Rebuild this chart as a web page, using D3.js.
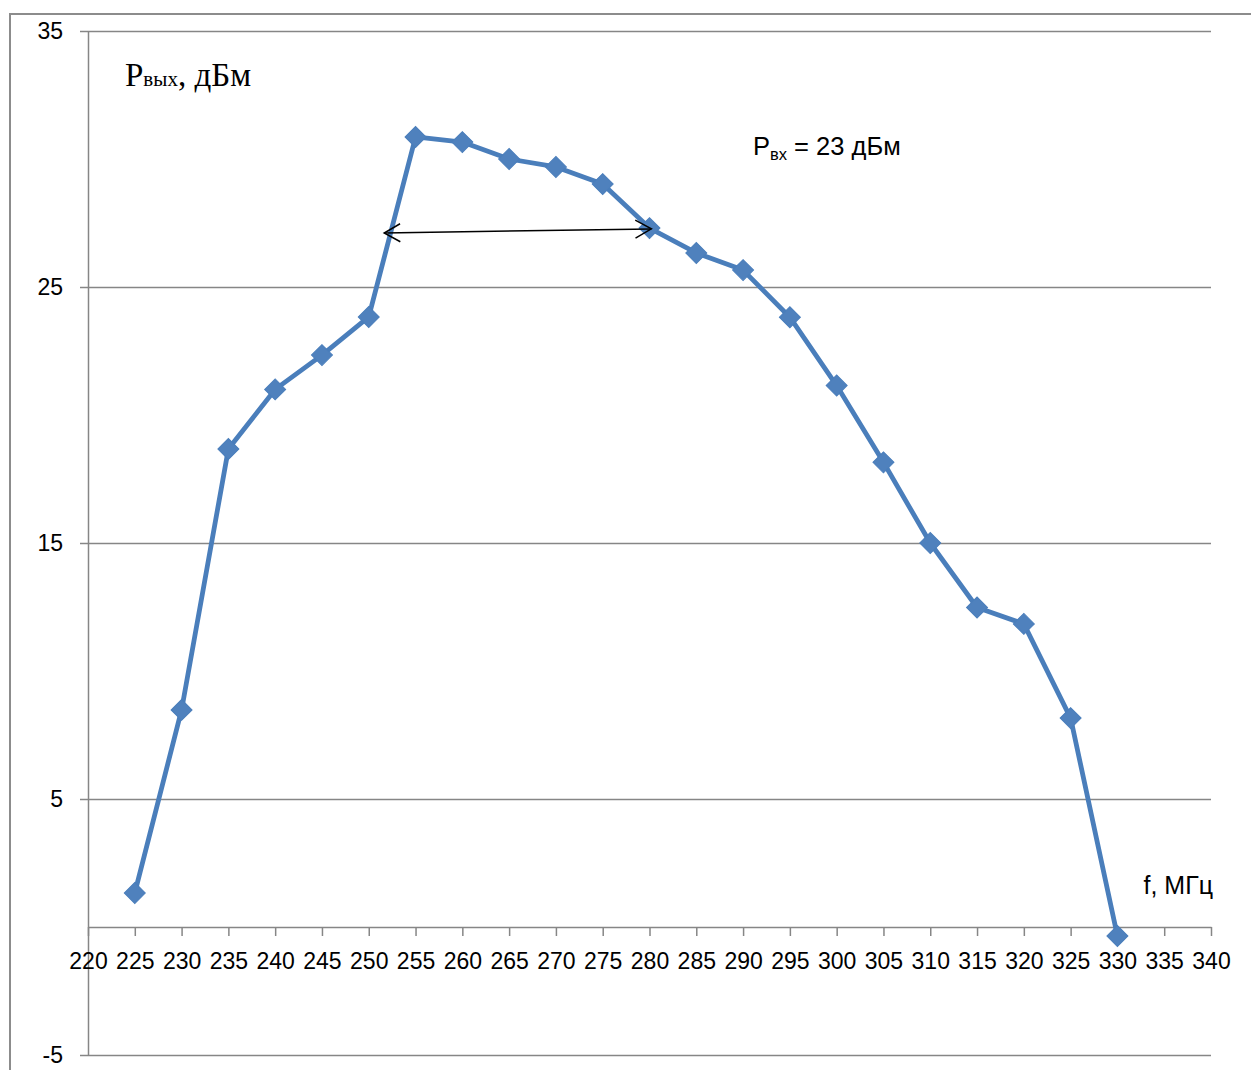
<!DOCTYPE html>
<html>
<head>
<meta charset="utf-8">
<script src="https://cdn.jsdelivr.net/npm/d3@7"></script>
<style>
  body { margin: 0; background: #fff; }
  svg { display: block; }
</style>
</head>
<body>
<div id="chart"></div>
<script>
// Frequencies, MHz
var freq = [225, 230, 235, 240, 245, 250, 255, 260, 265, 270, 275,
            280, 285, 290, 295, 300, 305, 310, 315, 320, 325, 330];
// Output power, dBm
var pout = [1.33, 8.48, 18.67, 21.0, 22.34, 23.83, 30.86, 30.66, 30.0, 29.69, 29.02,
            27.3, 26.33, 25.66, 23.82, 21.15, 18.15, 15.0, 12.48, 11.84, 8.16, -0.35];

var xTicks = [220, 225, 230, 235, 240, 245, 250, 255, 260, 265, 270, 275, 280,
              285, 290, 295, 300, 305, 310, 315, 320, 325, 330, 335, 340];
var yTicks = [-5, 5, 15, 25, 35];

// bandwidth arrow, in data units
var arrowX = [251.65, 280.2];
var arrowY = [27.11, 27.27];

var W = 1251, H = 1070;
var blue = '#4a7ebb', grey = '#868686';

var svg = d3.select('#chart').append('svg')
    .attr('width', W)
    .attr('height', H);

// outer chart frame (cut off right and bottom)
svg.append('rect')
    .attr('x', 10).attr('y', 14)
    .attr('width', 1400).attr('height', 1200)
    .attr('fill', 'none')
    .attr('stroke', '#8c8c8c')
    .attr('stroke-width', 2);

var x = d3.scaleLinear().domain([220, 340]).range([88, 1211]);
var y = d3.scaleLinear().domain([-5, 35]).range([1055, 31]);

// plain hyphen for negatives, like the original
var fmt = function(d) { return String(d); };

// gridlines
svg.append('g')
    .attr('transform', 'translate(88,0)')
    .call(d3.axisLeft(y).tickValues(yTicks).tickSize(-(1211 - 88)).tickFormat(''))
    .call(function(g) {
        g.select('.domain').remove();
        g.selectAll('line').attr('stroke', grey).attr('stroke-width', 1.5);
    });

// y axis
svg.append('g')
    .attr('transform', 'translate(88,0)')
    .call(d3.axisLeft(y).tickValues(yTicks).tickFormat(fmt).tickSize(8).tickPadding(17).tickSizeOuter(0))
    .call(function(g) {
        g.select('.domain').attr('stroke', grey).attr('stroke-width', 1.5);
        g.selectAll('line').attr('stroke', grey).attr('stroke-width', 1.5);
        g.selectAll('text')
            .attr('font-family', 'Liberation Sans, Arial, sans-serif')
            .attr('font-size', 23)
            .attr('fill', '#000');
    });

// x axis, crossing at 0
svg.append('g')
    .attr('transform', 'translate(0,' + y(0) + ')')
    .call(d3.axisBottom(x).tickValues(xTicks).tickFormat(fmt).tickSize(9).tickPadding(17).tickSizeOuter(0))
    .call(function(g) {
        g.select('.domain').attr('stroke', grey).attr('stroke-width', 1.5);
        g.selectAll('line').attr('stroke', grey).attr('stroke-width', 1.5);
        g.selectAll('text')
            .attr('font-family', 'Liberation Sans, Arial, sans-serif')
            .attr('font-size', 23)
            .attr('fill', '#000');
    });

var pts = freq.map(function(f, i) { return [f, pout[i]]; });

// series line
svg.append('path')
    .datum(pts)
    .attr('fill', 'none')
    .attr('stroke', blue)
    .attr('stroke-width', 4.8)
    .attr('stroke-linejoin', 'round')
    .attr('d', d3.line().x(function(d) { return x(d[0]); }).y(function(d) { return y(d[1]); }));

// diamond markers
var diamond = d3.symbol().type(d3.symbolSquare).size(220);
svg.append('g').selectAll('path')
    .data(pts)
    .enter().append('path')
    .attr('d', diamond)
    .attr('transform', function(d) { return 'translate(' + x(d[0]) + ',' + y(d[1]) + ') rotate(45)'; })
    .attr('fill', '#4f81bd')
    .attr('stroke', blue)
    .attr('stroke-width', 1);

// double-headed arrow
var defs = svg.append('defs');
defs.append('marker')
    .attr('id', 'head')
    .attr('viewBox', '0 0 20 20')
    .attr('refX', 18).attr('refY', 10)
    .attr('markerWidth', 20).attr('markerHeight', 20)
    .attr('markerUnits', 'userSpaceOnUse')
    .attr('orient', 'auto-start-reverse')
    .append('path')
    .attr('d', 'M2,1 L18,10 L2,19')
    .attr('fill', 'none')
    .attr('stroke', '#000')
    .attr('stroke-width', 1.5);

svg.append('line')
    .attr('x1', x(arrowX[0])).attr('y1', y(arrowY[0]))
    .attr('x2', x(arrowX[1])).attr('y2', y(arrowY[1]))
    .attr('stroke', '#000')
    .attr('stroke-width', 1.5)
    .attr('marker-start', 'url(#head)')
    .attr('marker-end', 'url(#head)');

// y title
var t1 = svg.append('text')
    .attr('x', 125).attr('y', 86)
    .attr('font-family', 'Liberation Serif, Times New Roman, serif')
    .attr('font-size', 33)
    .attr('fill', '#000');
t1.append('tspan').text('P');
t1.append('tspan').attr('font-size', 21).text('вых');
t1.append('tspan').text(', дБм');

// input power note
var t2 = svg.append('text')
    .attr('x', 753).attr('y', 155)
    .attr('font-family', 'Liberation Sans, Arial, sans-serif')
    .attr('font-size', 25.5)
    .attr('fill', '#000');
t2.append('tspan').text('P');
t2.append('tspan').attr('font-size', 16.5).attr('dy', 5).text('вх');
t2.append('tspan').attr('dy', -5).text(' = 23 дБм');

// x title
svg.append('text')
    .attr('x', 1213).attr('y', 894)
    .attr('text-anchor', 'end')
    .attr('font-family', 'Liberation Sans, Arial, sans-serif')
    .attr('font-size', 25)
    .attr('fill', '#000')
    .text('f, МГц');
</script>
</body>
</html>
